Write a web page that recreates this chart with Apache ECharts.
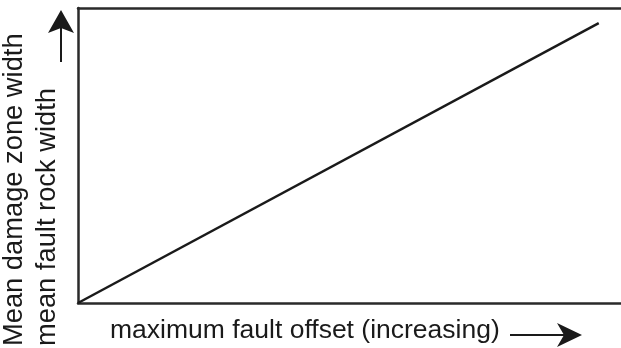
<!DOCTYPE html>
<html>
<head>
<meta charset="utf-8">
<script src="https://cdn.jsdelivr.net/npm/echarts@6/dist/echarts.min.js"></script>
<style>
  html, body { margin: 0; padding: 0; background: #fff; }
  #main { width: 621px; height: 348px; }
</style>
</head>
<body>
<div id="main"></div>
<script>
// schematic: fault zone width grows with fault offset (arbitrary 0-100 units)
var offsetValues = [0, 95.9];
var widthValues = [0, 94.9];
var xLabel = "maximum fault offset (increasing)";
var yLabel = "Mean damage zone width\nmean fault rock width";

var ink = "#1a1a1a";
var frame = { show: true, onZero: false, lineStyle: { color: "#2a2a2a", width: 2.5 } };
var xFont = "26.5px 'Liberation Sans', Arial, sans-serif";
var yFont = "27.3px 'Liberation Sans', Arial, sans-serif";

var chart = echarts.init(document.getElementById("main"));

var points = offsetValues.map(function (x, i) { return [x, widthValues[i]]; });

function bareAxis(extra) {
  return Object.assign({
    type: "value", min: 0, max: 100,
    axisLine: frame, axisTick: { show: false },
    axisLabel: { show: false }, splitLine: { show: false }
  }, extra);
}

chart.setOption({
  animation: false,
  grid: { left: 78, top: 8, right: 0, bottom: 45, containLabel: false },
  // bottom + top frame lines, no right side (frame runs off the page)
  xAxis: [bareAxis({ position: "bottom" }), bareAxis({ position: "top" })],
  yAxis: bareAxis({ position: "left" }),
  series: [{
    type: "line",
    data: points,
    symbol: "none",
    lineStyle: { color: ink, width: 2.5 }
  }],
  graphic: [
    // x axis title + arrow
    {
      type: "text", x: 110, y: 331,
      style: { text: xLabel, font: xFont, fill: ink, textAlign: "left", textVerticalAlign: "middle" }
    },
    {
      type: "line",
      shape: { x1: 510, y1: 335, x2: 566, y2: 335 },
      style: { stroke: ink, lineWidth: 2 }
    },
    {
      type: "polygon",
      shape: { points: [[582, 335], [557, 323], [564, 335], [557, 347]] },
      style: { fill: ink }
    },
    // y axis title + arrow
    {
      type: "text", x: -2, y: 346, rotation: Math.PI / 2,
      style: { text: yLabel, font: yFont, fill: ink, lineHeight: 33, textAlign: "left", textVerticalAlign: "top" }
    },
    {
      type: "line",
      shape: { x1: 61, y1: 62, x2: 61, y2: 26 },
      style: { stroke: ink, lineWidth: 2 }
    },
    {
      type: "polygon",
      shape: { points: [[61, 10], [48, 33], [61, 28], [74, 33]] },
      style: { fill: ink }
    }
  ]
});
</script>
</body>
</html>
